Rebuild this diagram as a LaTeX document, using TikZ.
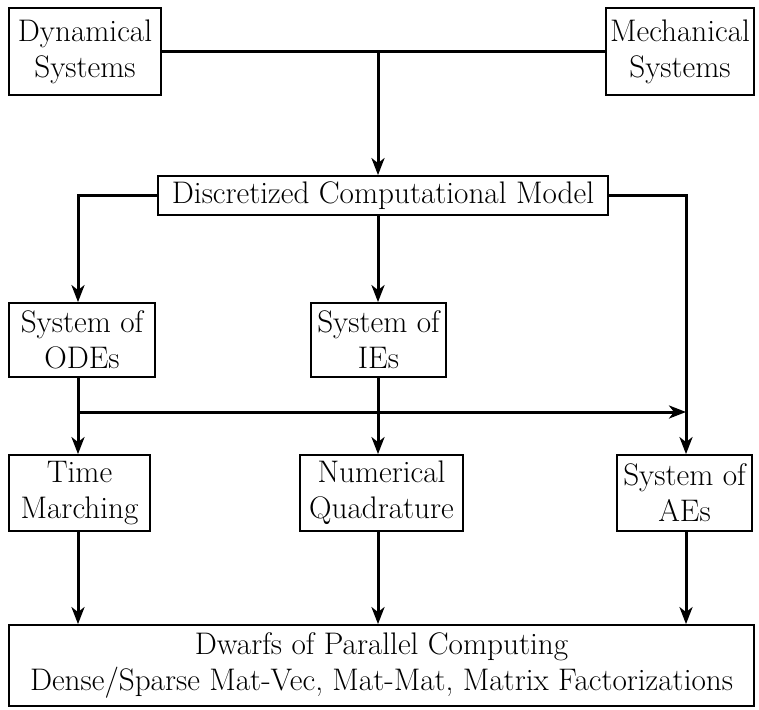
\documentclass[tikz,border=0pt]{standalone}
\usetikzlibrary{arrows.meta}
\begin{document}
\begin{tikzpicture}[x=1pt,y=-1pt,
  box/.style={draw, line width=1.8pt, inner sep=0pt, align=center,
    font=\fontsize{31.2}{36}\selectfont},
  link/.style={line width=3pt},
  arr/.style={link, -{Stealth[length=17pt,width=13pt,inset=5pt]}}]
\useasboundingbox (0,0) rectangle (759,709);

% boxes
\node[box, minimum width=152, minimum height=87] (dyn)  at (85,51.5)   {Dynamical\\Systems};
\node[box, minimum width=148, minimum height=87] (mech) at (680,51.5)  {Mechanical\\Systems};
\node[box, minimum width=450, minimum height=39] (dcm)  at (383,195.5) {Discretized Computational Model};
\node[box, minimum width=146, minimum height=74] (ode)  at (82,340)    {System of\\ODEs};
\node[box, minimum width=135, minimum height=74] (ie)   at (378.5,340) {System of\\IEs};
\node[box, minimum width=141, minimum height=76] (tm)   at (79.5,493)  {Time\\Marching};
\node[box, minimum width=163, minimum height=76] (nq)   at (381.5,493) {Numerical\\Quadrature};
\node[box, minimum width=135, minimum height=76] (ae)   at (684.5,493) {System of\\AEs};
\node[box, minimum width=745, minimum height=81] (dw)   at (381.5,665.5)
  {Dwarfs of Parallel Computing\\Dense/Sparse Mat-Vec, Mat-Mat, Matrix Factorizations};

% column guides for the connectors
\coordinate (cA) at (78,412);
\coordinate (cB) at (378,51.5);
\coordinate (cC) at (686,195.5);

% connectors
\draw[link] (dyn.east) -- (mech.west);
\draw[arr] (cB) -- (cB |- dcm.north);
\draw[arr] (dcm.west) -| (cA |- ode.north);
\draw[arr] (dcm.south -| cB) -- (ie.north -| cB);
\draw[arr] (dcm.east) -| (cC |- ae.north);
\draw[arr] (ode.south -| cA) -- (tm.north -| cA);
\draw[arr] (cA) -- (cA -| cC);
\draw[arr] (ie.south -| cB) -- (nq.north -| cB);
\draw[arr] (tm.south -| cA) -- (dw.north -| cA);
\draw[arr] (nq.south -| cB) -- (dw.north -| cB);
\draw[arr] (ae.south -| cC) -- (dw.north -| cC);
\end{tikzpicture}
\end{document}
